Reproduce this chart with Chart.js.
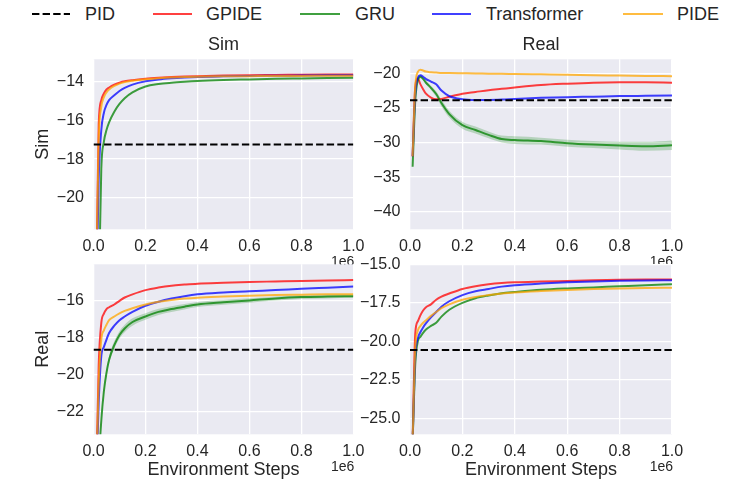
<!DOCTYPE html>
<html><head><meta charset="utf-8">
<script src="https://cdn.jsdelivr.net/npm/chart.js@4.4.0/dist/chart.umd.min.js"></script>
<style>
body{margin:0;background:#fff;width:747px;height:489px;overflow:hidden;position:relative;font-family:"Liberation Sans",Arial,sans-serif;}
canvas{position:absolute;}
.lg{position:absolute;top:4px;font-size:18px;line-height:20px;color:#262626;white-space:nowrap;}
</style></head><body>
<svg id="legsvg" width="747" height="30" style="position:absolute;left:0;top:0"></svg>
<div id="legtext"></div>
<canvas id="cTL"></canvas>
<canvas id="cTR"></canvas>
<canvas id="cBL"></canvas>
<canvas id="cBR"></canvas>
<script>
// ---------- DATA ----------
const seriesNames = ['PID', 'GPIDE', 'GRU', 'Transformer', 'PIDE'];
const xSteps = [0.01,0.02,0.03,0.04,0.05,0.06,0.08,0.10,0.12,0.15,0.20,0.25,0.30,0.35,0.40,0.50,0.60,0.70,0.80,0.90,1.00]; // x 1e6
const xTickValues = [0, 0.2, 0.4, 0.6, 0.8, 1.0];
const colTitles = ['Sim', 'Real'];
const rowLabels = ['Sim', 'Real'];
const xLabel = 'Environment Steps';

// top-left (row Sim, column Sim)
const tlPID = -17.24;
const tlGPIDE = [-25,-16.2,-14.95,-14.6,-14.4,-14.3,-14.15,-14.05,-13.98,-13.92,-13.85,-13.8,-13.76,-13.73,-13.71,-13.68,-13.66,-13.65,-13.64,-13.63,-13.62];
const tlGRU = [-35,-25,-18.5,-17.1,-16.5,-16.1,-15.55,-15.15,-14.85,-14.55,-14.25,-14.12,-14.05,-14.0,-13.96,-13.91,-13.88,-13.85,-13.83,-13.81,-13.79];
const tlTransformer = [-26,-19.0,-16.5,-15.6,-15.2,-14.95,-14.7,-14.48,-14.32,-14.15,-13.98,-13.88,-13.82,-13.78,-13.75,-13.72,-13.7,-13.69,-13.68,-13.67,-13.66];
const tlPIDE = [-25,-17.0,-15.3,-14.8,-14.55,-14.4,-14.22,-14.1,-14.02,-13.95,-13.87,-13.82,-13.78,-13.76,-13.74,-13.72,-13.71,-13.7,-13.7,-13.69,-13.69];
const tlYTicks = [-20, -18, -16, -14];

// top-right (row Sim, column Real)
const trPID = -23.9;
const trGPIDE = [-32,-22,-20.8,-21.6,-22.3,-22.9,-23.5,-23.75,-23.7,-23.4,-22.95,-22.7,-22.45,-22.25,-22.05,-21.7,-21.5,-21.35,-21.3,-21.3,-21.35];
const trGRU = [-33.5,-24,-21,-20.5,-20.8,-21.3,-22.1,-23.0,-24.3,-25.9,-27.5,-28.2,-28.9,-29.5,-29.65,-29.8,-30.1,-30.3,-30.45,-30.55,-30.4];
const trGRUHigh = [-33.2,-23.7,-20.8,-20.3,-20.6,-21.0,-21.8,-22.6,-23.8,-25.4,-27.0,-27.7,-28.4,-29.0,-29.1,-29.3,-29.6,-29.8,-29.9,-29.9,-29.7];
const trGRULow = [-33.8,-24.3,-21.2,-20.7,-21.0,-21.6,-22.4,-23.4,-24.8,-26.4,-28.0,-28.7,-29.4,-30.0,-30.2,-30.3,-30.6,-30.8,-31.0,-31.2,-31.1];
const trTransformer = [-32,-23,-20.6,-20.3,-20.5,-20.8,-21.2,-21.6,-22.5,-23.3,-23.75,-23.85,-23.85,-23.8,-23.7,-23.55,-23.45,-23.38,-23.3,-23.25,-23.2];
const trPIDE = [-32,-22,-19.8,-19.5,-19.6,-19.75,-19.85,-19.9,-19.95,-19.97,-20.0,-20.03,-20.05,-20.08,-20.1,-20.15,-20.2,-20.28,-20.32,-20.38,-20.42];
const trYTicks = [-40, -35, -30, -25, -20];

// bottom-left (row Real, column Sim)
const blPID = -18.65;
const blGPIDE = [-26,-19.5,-17.2,-16.7,-16.45,-16.35,-16.2,-16.0,-15.82,-15.65,-15.42,-15.28,-15.18,-15.12,-15.07,-15.02,-14.98,-14.95,-14.92,-14.9,-14.87];
const blGRU = [-30,-25,-22.5,-20.9,-19.9,-19.2,-18.4,-17.85,-17.5,-17.15,-16.85,-16.6,-16.45,-16.32,-16.2,-16.08,-15.98,-15.87,-15.8,-15.77,-15.75];
const blGRUHigh = [-29.8,-24.8,-22.3,-20.7,-19.7,-19.0,-18.2,-17.65,-17.3,-16.95,-16.67,-16.43,-16.29,-16.17,-16.06,-15.95,-15.86,-15.76,-15.7,-15.67,-15.66];
const blGRULow = [-30.2,-25.2,-22.7,-21.1,-20.1,-19.4,-18.6,-18.05,-17.7,-17.35,-17.03,-16.77,-16.61,-16.47,-16.34,-16.21,-16.1,-15.98,-15.9,-15.87,-15.84];
const blTransformer = [-26,-21.5,-19.0,-18.5,-18.1,-17.75,-17.35,-17.05,-16.85,-16.6,-16.27,-16.05,-15.88,-15.75,-15.65,-15.55,-15.48,-15.42,-15.35,-15.29,-15.23];
const blPIDE = [-26,-20.5,-18.1,-17.6,-17.3,-17.05,-16.85,-16.68,-16.55,-16.4,-16.2,-16.05,-15.95,-15.88,-15.83,-15.77,-15.72,-15.69,-15.67,-15.65,-15.64];
const blYTicks = [-22, -20, -18, -16];

// bottom-right (row Real, column Real)
const brPID = -20.56;
const brGPIDE = [-26.5,-19.5,-18.7,-18.3,-18.0,-17.8,-17.6,-17.3,-17.1,-16.9,-16.6,-16.42,-16.3,-16.22,-16.17,-16.12,-16.08,-16.04,-16.01,-15.99,-15.98];
const brGRU = [-26.5,-21.5,-20.0,-19.7,-19.45,-19.25,-19.0,-18.8,-18.4,-17.95,-17.5,-17.2,-17.02,-16.88,-16.8,-16.66,-16.57,-16.5,-16.43,-16.36,-16.3];
const brTransformer = [-26.5,-21,-19.8,-19.4,-19.1,-18.85,-18.45,-18.1,-17.75,-17.4,-17.0,-16.75,-16.6,-16.45,-16.36,-16.25,-16.17,-16.11,-16.07,-16.05,-16.04];
const brPIDE = [-26.5,-20.5,-19.3,-19.0,-18.8,-18.65,-18.35,-18.1,-17.85,-17.6,-17.3,-17.12,-17.0,-16.9,-16.83,-16.74,-16.67,-16.61,-16.57,-16.54,-16.52];
const brYTicks = [-25, -22.5, -20, -17.5, -15];

// ---------- STYLE ----------
const FONT = "'Liberation Sans', Arial, sans-serif";
const TXT = '#262626';
const BG = '#EAEAF2';
const colors = {
  PID: '#000000',
  GPIDE: 'rgba(255,0,0,0.75)',
  GRU: 'rgba(0,128,0,0.75)',
  Transformer: 'rgba(0,0,255,0.75)',
  PIDE: 'rgba(255,165,0,0.75)'
};
const legendColors = {PID:'#000', GPIDE:'#ff4040', GRU:'#40a040', Transformer:'#4040ff', PIDE:'#ffbc40'};
const DASH = [7.4, 3.2];

// ---------- LEGEND ----------
(function(){
  const svg = document.getElementById('legsvg');
  const lt = document.getElementById('legtext');
  const lineX = [[32,70],[153,192],[300,340],[432,471],[623,663]];
  const textX = [85, 206, 355, 486, 677];
  seriesNames.forEach((n,i)=>{
    const l = document.createElementNS('http://www.w3.org/2000/svg','line');
    l.setAttribute('x1', lineX[i][0]); l.setAttribute('x2', lineX[i][1]);
    l.setAttribute('y1', 14); l.setAttribute('y2', 14);
    l.setAttribute('stroke', legendColors[n]); l.setAttribute('stroke-width', 2);
    if (n === 'PID') l.setAttribute('stroke-dasharray', DASH.join(' '));
    svg.appendChild(l);
    const s = document.createElement('span');
    s.className = 'lg'; s.style.left = textX[i] + 'px'; s.textContent = n;
    lt.appendChild(s);
  });
})();

// ---------- CHARTS ----------
const bgPlugin = {
  id: 'bgArea',
  beforeDraw(chart){
    const a = chart.chartArea, c = chart.ctx;
    c.save(); c.fillStyle = BG; c.fillRect(a.left, a.top, a.right - a.left, a.bottom - a.top); c.restore();
  }
};
const textPlugin = {
  id: 'extraText',
  afterDraw(chart, args, opts){
    const a = chart.chartArea, c = chart.ctx;
    c.save(); c.fillStyle = TXT;
    c.font = '14px ' + FONT; c.textAlign = 'right'; c.textBaseline = 'middle';
    c.fillText('1e6', a.right + 1, a.bottom + 33);
    if (opts.title) {
      c.font = '18px ' + FONT; c.textAlign = 'center';
      c.fillText(opts.title, (a.left + a.right) / 2, a.top - 14.3);
    }
    c.restore();
  }
};
function fmt(v, dec){ return v.toFixed(dec).replace('-', '\u2212'); }
function pts(arr){ return arr.map((y,i)=>({x:xSteps[i], y})); }
function line(name, arr, order){
  return {label:name, data:pts(arr), borderColor:colors[name], borderWidth:2, pointRadius:0,
          cubicInterpolationMode:'monotone', fill:false, order, clip:0};
}
function pidLine(v){
  return {label:'PID', data:[{x:0,y:v},{x:1,y:v}], borderColor:'#000', borderWidth:2, borderDash:DASH,
          pointRadius:0, fill:false, order:0, clip:0};
}
function band(low, high, color){
  return [
    {label:'band-low', data:pts(low), borderWidth:0, pointRadius:0, fill:false, order:9, clip:0, cubicInterpolationMode:'monotone'},
    {label:'band-high', data:pts(high), borderWidth:0, pointRadius:0, backgroundColor:color, fill:'-1', order:9, clip:0, cubicInterpolationMode:'monotone'}
  ];
}
function makeChart(id, box, area, cfg){
  const cv = document.getElementById(id);
  cv.style.left = box.left + 'px'; cv.style.top = box.top + 'px';
  cv.style.width = box.width + 'px'; cv.style.height = box.height + 'px';
  cv.width = box.width; cv.height = box.height;
  const gridOpt = {color:'#ffffff', lineWidth:1.3, drawTicks:false};
  const want = {
    left: area.left - box.left, right: area.right - box.left,
    top: area.top - box.top, bottom: area.bottom - box.top
  };
  const ch = new Chart(cv, {
    type:'line',
    data:{datasets: cfg.datasets},
    options:{
      responsive:false, animation:false, events:[],
      layout:{padding:{top:want.top, right:box.width - want.right, left:0, bottom:0}},
      plugins:{
        legend:{display:false}, tooltip:{enabled:false}, title:{display:false},
        extraText:{title:cfg.title || ''}
      },
      scales:{
        x:{type:'linear', min:0, max:1,
           afterBuildTicks:s=>{ s.ticks = xTickValues.map(v=>({value:v})); },
           afterFit:s=>{ s.height = box.height - want.bottom; },
           ticks:{callback:v=>fmt(v,1), color:TXT, font:{family:FONT, size:16}, padding:7.5, maxRotation:0, autoSkip:false},
           grid:gridOpt, border:{display:false},
           title:{display:!!cfg.xTitle, text:cfg.xTitle || '', color:TXT, font:{family:FONT, size:18}, padding:{top:0, bottom:7.7}}
        },
        y:{type:'linear', min:cfg.yMin, max:cfg.yMax,
           afterBuildTicks:s=>{ s.ticks = cfg.yTicks.map(v=>({value:v})); },
           afterFit:s=>{ s.width = want.left; },
           ticks:{callback:v=>fmt(v, cfg.yDec), color:TXT, font:{family:FONT, size:16}, padding:9.5, autoSkip:false},
           grid:gridOpt, border:{display:false},
           title:{display:!!cfg.yTitle, text:cfg.yTitle || '', color:TXT, font:{family:FONT, size:18}, padding:{top:32.2, bottom:0}}
        }
      }
    },
    plugins:[bgPlugin, textPlugin]
  });
  // correct any automatic layout offsets so the plot area lands exactly where wanted
  for (let k = 0; k < 3; k++) {
    const a = ch.chartArea, p = ch.options.layout.padding;
    const dt = want.top - a.top, dr = a.right - want.right;
    if (Math.abs(dt) < 0.05 && Math.abs(dr) < 0.05) break;
    p.top += dt; p.right += dr;
    ch.update();
  }
  return ch;
}

const leftL = 93.5, leftR = 356, rightL = 410, rightR = 672;
const topArea = 59.3, topBottom = 229.3;
const botArea = 264.3, botBottom = 434.3;
const bandColor = 'rgba(0,128,0,0.22)';

makeChart('cTL', {left:0, top:25, width:372, height:245}, {left:leftL, right:leftR, top:topArea, bottom:topBottom}, {
  datasets:[pidLine(tlPID), line('PIDE', tlPIDE, 1), line('Transformer', tlTransformer, 2), line('GRU', tlGRU, 3), line('GPIDE', tlGPIDE, 4)],
  title:colTitles[0], yMin:-21.63, yMax:-12.84, yTicks:tlYTicks, yDec:0, yTitle:rowLabels[0]
});
makeChart('cTR', {left:358, top:25, width:389, height:245}, {left:rightL, right:rightR, top:topArea, bottom:topBottom}, {
  datasets:[pidLine(trPID), line('PIDE', trPIDE, 1), line('Transformer', trTransformer, 2), line('GRU', trGRU, 3), line('GPIDE', trGPIDE, 4), ...band(trGRULow, trGRUHigh, bandColor)],
  title:colTitles[1], yMin:-42.54, yMax:-17.98, yTicks:trYTicks, yDec:0
});
makeChart('cBL', {left:0, top:245, width:372, height:244}, {left:leftL, right:leftR, top:botArea, bottom:botBottom}, {
  datasets:[pidLine(blPID), line('PIDE', blPIDE, 1), line('Transformer', blTransformer, 2), line('GRU', blGRU, 3), line('GPIDE', blGPIDE, 4), ...band(blGRULow, blGRUHigh, bandColor)],
  yMin:-23.24, yMax:-14.02, yTicks:blYTicks, yDec:0, yTitle:rowLabels[1], xTitle:xLabel
});
makeChart('cBR', {left:358, top:245, width:389, height:244}, {left:rightL, right:rightR, top:botArea, bottom:botBottom}, {
  datasets:[pidLine(brPID), line('PIDE', brPIDE, 1), line('Transformer', brTransformer, 2), line('GRU', brGRU, 3), line('GPIDE', brGPIDE, 4)],
  yMin:-26.04, yMax:-15.0, yTicks:brYTicks, yDec:1, xTitle:xLabel
});
</script>
</body></html>
